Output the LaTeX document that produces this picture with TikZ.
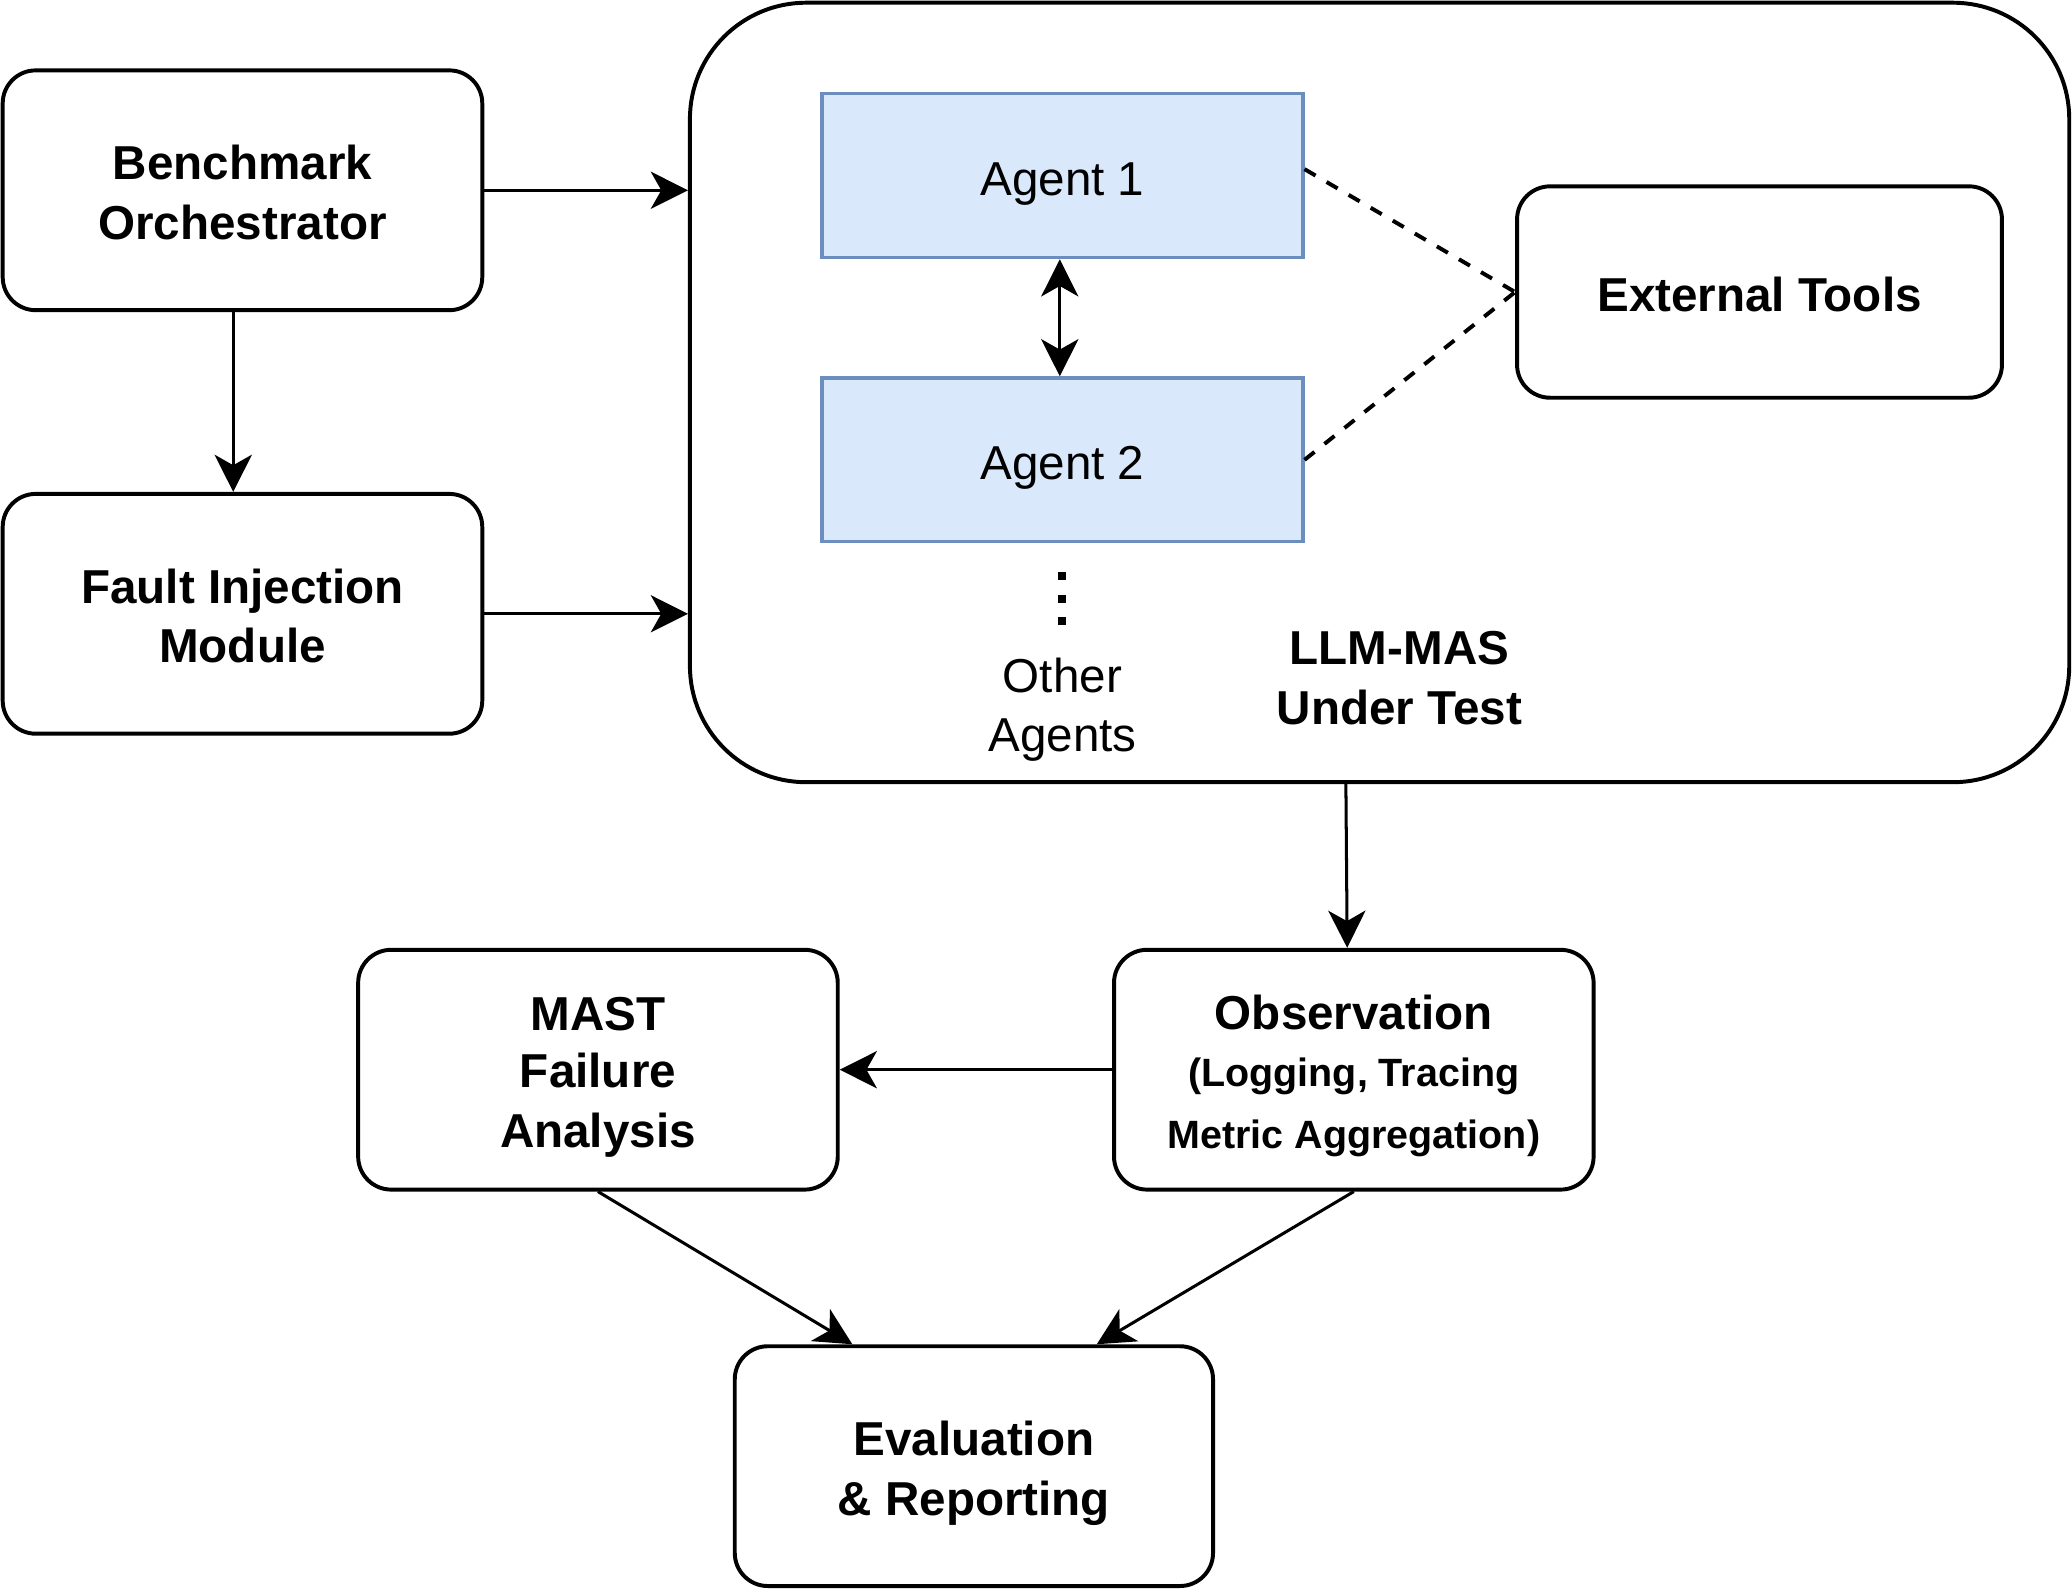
\documentclass[tikz,border=0pt]{standalone}
\usepackage{fontspec}
\setmainfont{Liberation Sans}
\usetikzlibrary{arrows.meta}
\definecolor{agentfill}{HTML}{DAE8FC}
\definecolor{agentline}{HTML}{6C8EBF}
\newcommand{\bigfont}{\fontsize{20.5}{25.6}\selectfont}
\newcommand{\smalltext}{\fontsize{17}{26}\selectfont}
\newcommand{\lstrut}{\rule[-4.5pt]{0pt}{25.6pt}}

\begin{document}
\begin{tikzpicture}[x=0.02cm, y=-0.02cm,
    >={Stealth[length=16pt,width=16pt,inset=4.5pt]},
    every node/.style={font=\bigfont},
    block/.style={draw, line width=1.7pt, rounded corners=0.5cm, minimum width=7.26cm, minimum height=3.63cm, align=center, font=\bigfont\bfseries},
    agent/.style={draw=agentline, fill=agentfill, line width=1.4pt, minimum width=7.28cm, minimum height=2.48cm},
    link/.style={line width=1.3pt},
    uses/.style={line width=1.7pt, dash pattern=on 5.5pt off 5.5pt},
    ]
    \useasboundingbox (0,0) rectangle (1568,1202);
    % system under test
    \node[draw, line width=1.7pt, rounded corners=1.76cm, minimum width=20.88cm, minimum height=11.8cm] (mas) at (1044,297) {};
    \node[agent] (agent1) at (804,133) {\lstrut Agent 1};
    \node[agent] (agent2) at (804,348) {\lstrut Agent 2};
    \foreach \y in {436,453,470} \fill (801,\y-3) rectangle +(6,6);
    \node[align=center] (others) at (804,532) {\lstrut Other\\Agents\lstrut};
    \node[align=center, font=\bigfont\bfseries] (maslabel) at (1059,511) {\lstrut LLM-MAS\\Under Test\lstrut};
    \node[block, minimum width=7.34cm, minimum height=3.2cm] (tools) at (1331.5,221) {\lstrut External Tools};
    % left and bottom blocks
    \node[block] (bench) at (183.5,144) {\lstrut Benchmark\\Orchestrator\lstrut};
    \node[block] (fault) at (183.5,464.5) {\lstrut Fault Injection\\Module\lstrut};
    \node[block] (obs) at (1024.5,809.5) {\lstrut Observation\\[-1.2pt]{\smalltext (Logging, Tracing}\\[1pt]{\smalltext Metric Aggregation)}\lstrut};
    \node[block] (mast) at (452.5,809.5) {\lstrut MAST\\[-1pt]Failure\\Analysis\lstrut};
    \node[block, minimum width=7.24cm] (eval) at (737,1109.5) {\lstrut Evaluation\\\&~Reporting\lstrut};
    % connectors
    \draw[->, link] (bench.east) -- (bench.east -| mas.west);
    \draw[->, link] (fault.east) -- (fault.east -| mas.west);
    \draw[->, link] ([xshift=-0.14cm]bench.south) -- ([xshift=-0.14cm]fault.north);
    \draw[<->, link] ([xshift=-0.04cm]agent1.south) -- ([xshift=-0.04cm]agent2.north);
    \draw[uses] ([yshift=0.1cm]agent1.east) -- (tools.west);
    \draw[uses] (agent2.east) -- (tools.west);
    \draw[->, link] ([xshift=-0.12cm]obs.north |- mas.south) -- ([xshift=-0.1cm]obs.north);
    \draw[->, link] (obs.west) -- (mast.east);
    \draw[->, link] (mast.south) -- ([xshift=-1.84cm]eval.north);
    \draw[->, link] (obs.south) -- ([xshift=1.86cm]eval.north);
\end{tikzpicture}
\end{document}
